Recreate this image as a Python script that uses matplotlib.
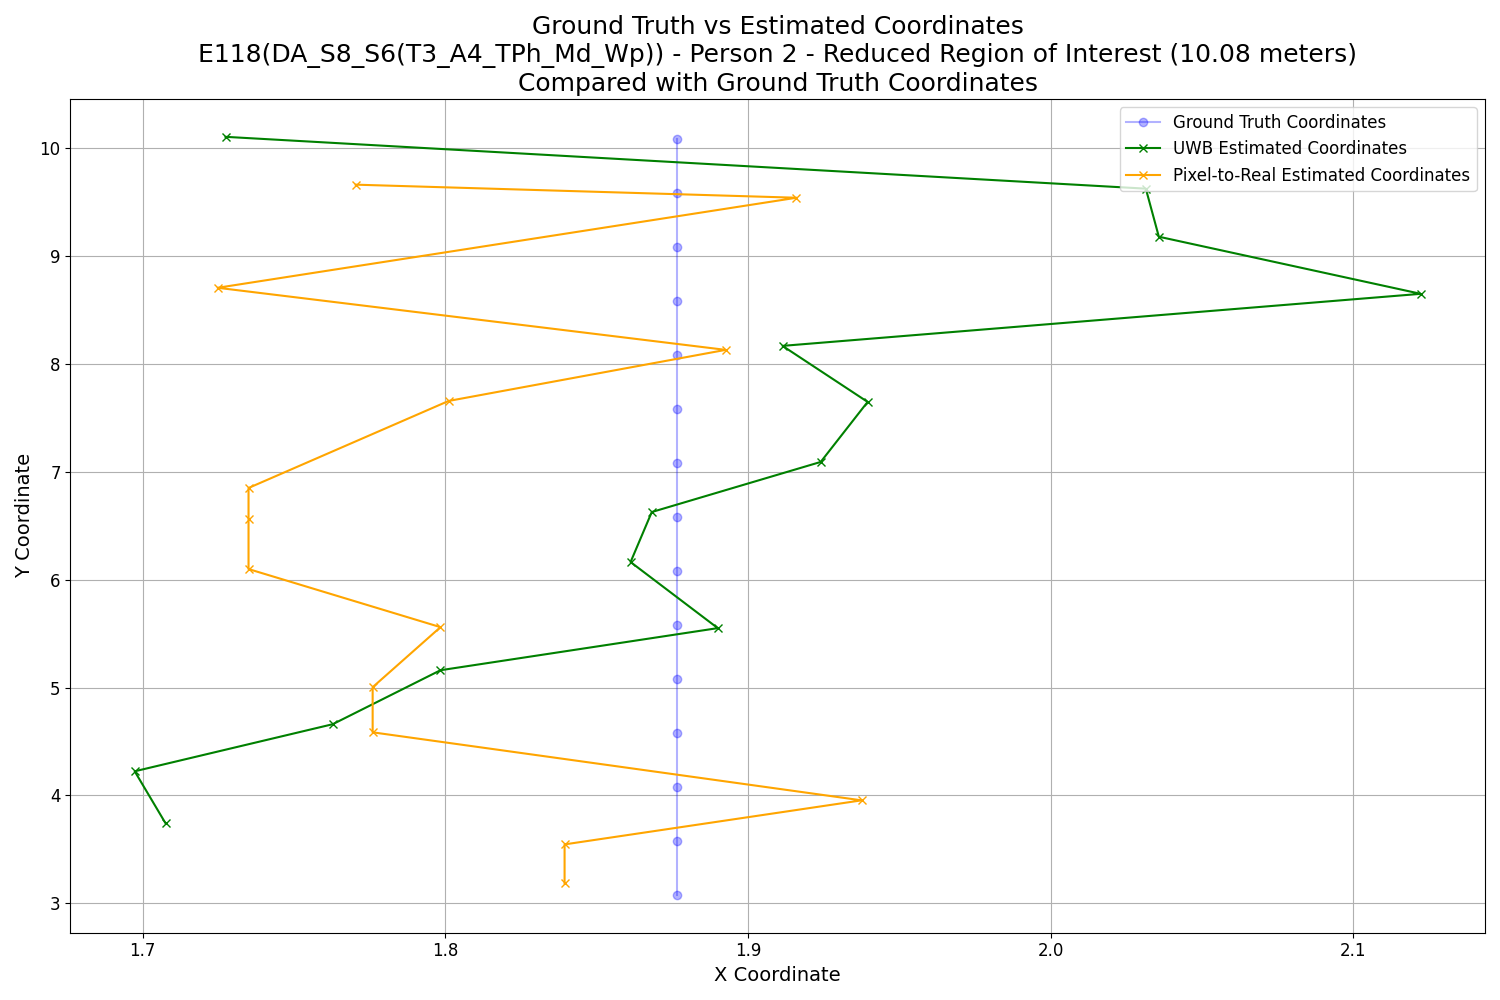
import numpy as np
import matplotlib.pyplot as plt

gt_x = [1.8767] * 15
gt_y = [3.08, 3.58, 4.08, 4.58, 5.08, 5.58, 6.08, 6.58, 7.08, 7.58, 8.08, 8.58, 9.08, 9.58, 10.08]

uwb_x = [1.7076, 1.6974, 1.7628, 1.7984, 1.8900, 1.8612, 1.8682, 1.9240, 1.9395, 1.9114, 2.1222, 2.0357, 2.0314, 1.7274]
uwb_y = [3.742, 4.224, 4.660, 5.160, 5.550, 6.162, 6.625, 7.089, 7.645, 8.164, 8.646, 9.175, 9.620, 10.100]

p2r_x = [1.8394, 1.8394, 1.9375, 1.7760, 1.7760, 1.7984, 1.7350, 1.7350, 1.7350, 1.8011, 1.8926, 1.7248, 1.9160, 1.7704]
p2r_y = [3.186, 3.547, 3.955, 4.585, 5.003, 5.559, 6.097, 6.560, 6.848, 7.654, 8.127, 8.702, 9.536, 9.657]

fig, ax = plt.subplots(figsize=(15, 10), dpi=100)
ax.plot(gt_x, gt_y, 'o-', color='blue', alpha=0.3, label='Ground Truth Coordinates')
ax.plot(uwb_x, uwb_y, 'x-', color='green', label='UWB Estimated Coordinates')
ax.plot(p2r_x, p2r_y, 'x-', color='orange', label='Pixel-to-Real Estimated Coordinates')

ax.set_title('Ground Truth vs Estimated Coordinates\n'
             'E118(DA_S8_S6(T3_A4_TPh_Md_Wp)) - Person 2 - Reduced Region of Interest (10.08 meters)\n'
             'Compared with Ground Truth Coordinates', fontsize=18)
ax.set_xlabel('X Coordinate', fontsize=14)
ax.set_ylabel('Y Coordinate', fontsize=14)
ax.tick_params(labelsize=12)
ax.legend(loc='upper right', fontsize=12)
ax.grid(True)

plt.tight_layout()
plt.savefig('out.png')
